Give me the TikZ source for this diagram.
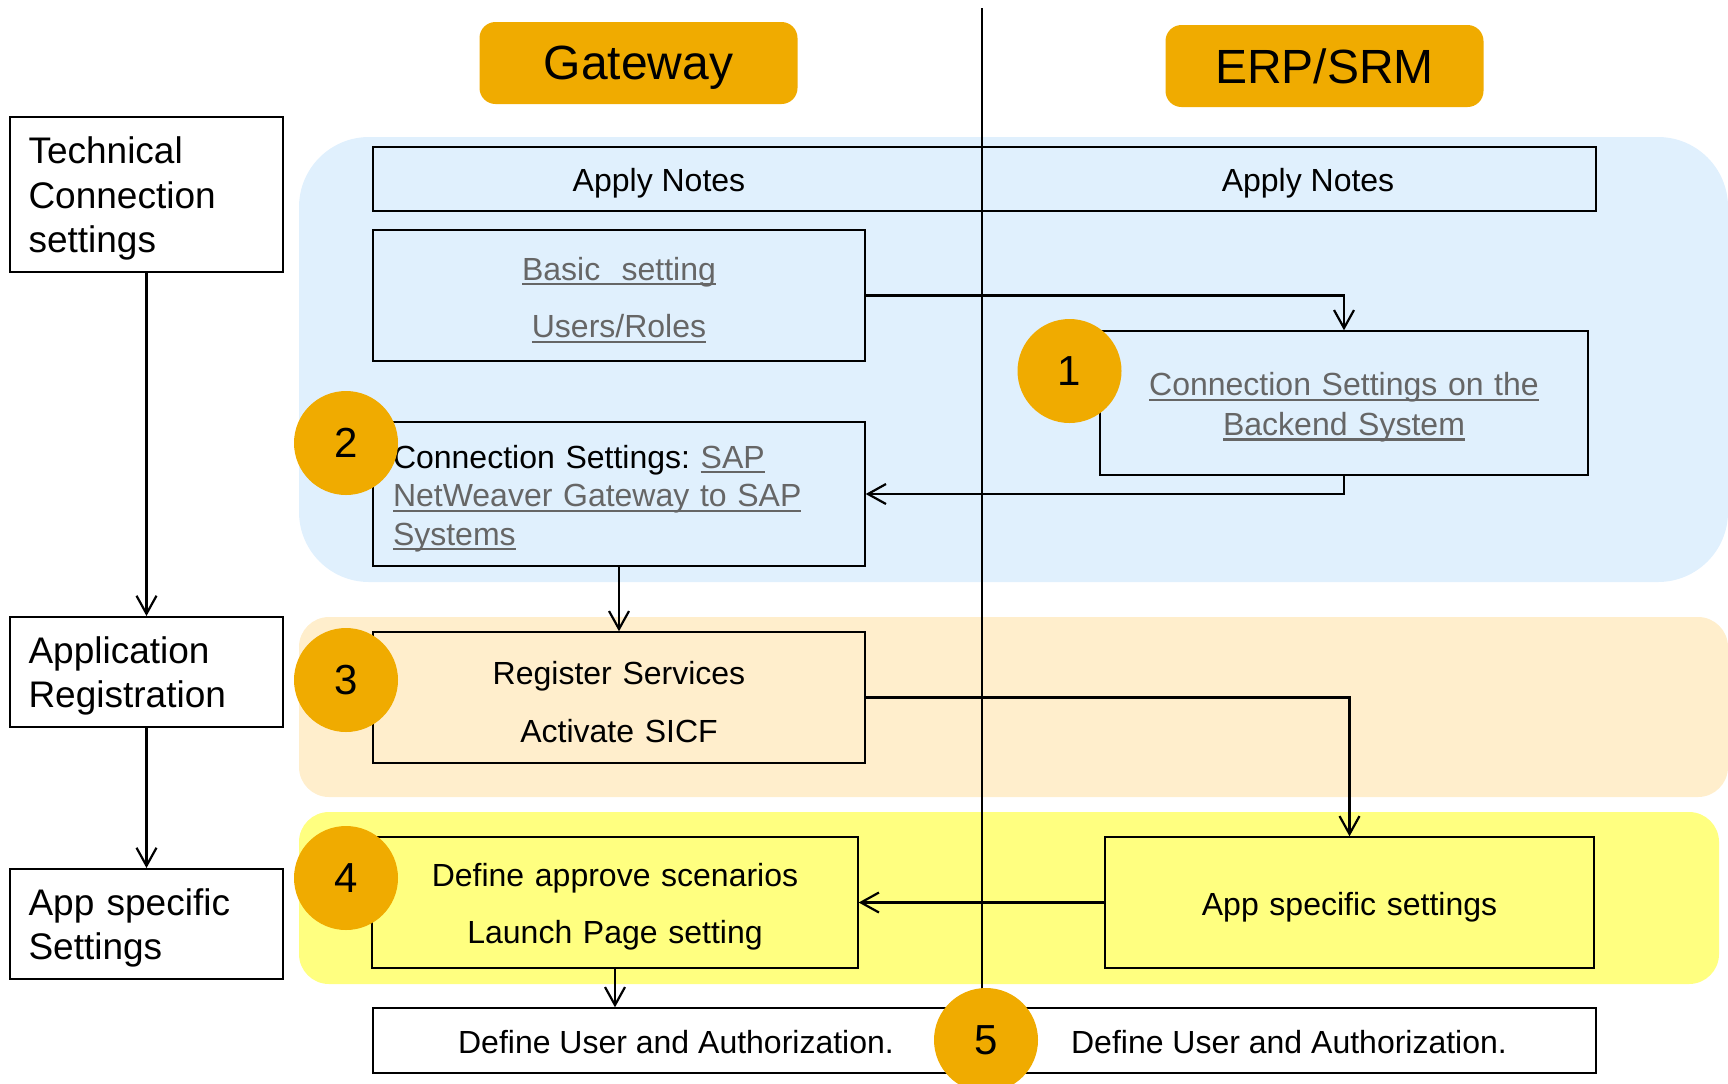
\documentclass[tikz,border=0pt]{standalone}
\usepackage{fontspec}
\setmainfont{Liberation Sans}
\usepackage{tikz}
\usetikzlibrary{arrows.meta}

\definecolor{sapgold}{RGB}{240,171,0}
\definecolor{bandblue}{RGB}{224,240,253}
\definecolor{bandorange}{RGB}{255,238,204}
\definecolor{bandyellow}{RGB}{255,255,128}
\definecolor{linkgray}{RGB}{102,102,102}

% underlined link text
\newcommand{\lnk}[1]{\textcolor{linkgray}{\sbox0{#1}\rlap{\rule[-2.6pt]{\wd0}{1.1pt}}\usebox0}}

\begin{document}
\begin{tikzpicture}[x=0.5pt,y=-0.5pt,
    head/.style={fill=sapgold,rounded corners=8pt,minimum width=159pt,minimum height=41pt,text depth=0pt,font=\fontsize{24}{28}\selectfont},
    stepbox/.style={draw,line width=1pt,fill=white,minimum width=136.5pt,text width=118pt,align=left,font=\fontsize{18.5}{22.3}\selectfont,execute at begin node={\rule{0pt}{17.5pt}}},
    taskbox/.style={draw,line width=0.7pt,minimum width=246pt,minimum height=65.5pt,text width=226pt,align=center,font=\fontsize{16}{28.8}\selectfont,execute at begin node={\rule{0pt}{16pt}}},
    num/.style={circle,fill=sapgold,minimum size=52pt,inner sep=0pt,font=\fontsize{21}{24}\selectfont},
    flow/.style={line width=1.1pt,-{Straight Barb[length=9pt,width=10pt]}},
    lbl/.style={font=\fontsize{16}{20}\selectfont}]
    \useasboundingbox (0,0) rectangle (1728,1083);

    % bands
    \fill[bandblue,rounded corners=35pt] (299,137) rectangle (1728,582);
    \fill[bandorange,rounded corners=15pt] (299,617) rectangle (1728,797);
    \fill[bandyellow,rounded corners=15pt] (299,812) rectangle (1719,984);

    % system headers
    \node[head] (gw) at (638.5,63) {Gateway};
    \node[head] (erp) at (1324.5,66) {ERP/SRM};

    % steps on the left
    \node[stepbox,minimum height=77.5pt] (tech) at (146.5,194.5) {Technical\\Connection\\settings};
    \node[stepbox,minimum height=55pt] (appreg) at (146.5,672) {Application\\Registration};
    \node[stepbox,minimum height=55pt] (appset) at (146.5,924) {App specific\\Settings};

    % tasks
    \node[taskbox,minimum width=611.5pt,minimum height=32pt] (notes) at (984.5,179) {};
    \node[lbl] (notesgw) at (659,183) {Apply Notes};
    \node[lbl] (noteserp) at (1308,183) {Apply Notes};
    \node[taskbox] (basic) at (619,295.5) {\lnk{Basic\ \ setting}\\\lnk{Users/Roles}};
    \node[taskbox,minimum width=244pt,minimum height=72pt,font=\fontsize{16}{19.8}\selectfont] (backend) at (1344,403) {\lnk{Connection Settings on the}\\\lnk{Backend System}};
    \node[taskbox,minimum height=72pt,align=left,font=\fontsize{16}{19.3}\selectfont] (conn) at (619,494) {Connection Settings:\ \lnk{SAP}\\\lnk{NetWeaver Gateway to SAP}\\\lnk{Systems}};
    \node[taskbox] (reg) at (619,697.5) {Register Services\\Activate SICF};
    \node[taskbox,minimum width=243pt] (approve) at (615,902.5) {Define approve scenarios\\Launch Page setting};
    \node[taskbox,minimum width=244.5pt,font=\fontsize{16}{20}\selectfont] (appspec) at (1349.5,902.5) {App specific settings};
    \node[taskbox,fill=white,minimum width=611.5pt,minimum height=32.5pt] (users) at (984.5,1040.5) {};
    \node[lbl] (usersgw) at (676,1042) {Define User and Authorization.};
    \node[lbl] (userserp) at (1289,1042) {Define User and Authorization.};

    % divider between the systems
    \draw[line width=0.6pt] (982,8) -- (982,1040);

    % flow
    \draw[flow] (tech) -- (appreg);
    \draw[flow] (appreg) -- (appset);
    \draw[flow] (basic.east) -| (backend.north);
    \draw[flow] (backend.south) |- (conn.east);
    \draw[flow] (conn) -- (reg);
    \draw[flow] (reg.east) -| (appspec.north);
    \draw[flow] (appspec) -- (approve);
    \draw[flow] (approve.south) -- (approve.south |- users.north);

    % step numbers
    \node[num] (n1) at (1069.5,371) {1};
    \node[num] (n2) at (346,443) {2};
    \node[num] (n3) at (346,680) {3};
    \node[num] (n4) at (346,878) {4};
    \node[num] (n5) at (986,1040) {5};
\end{tikzpicture}
\end{document}
